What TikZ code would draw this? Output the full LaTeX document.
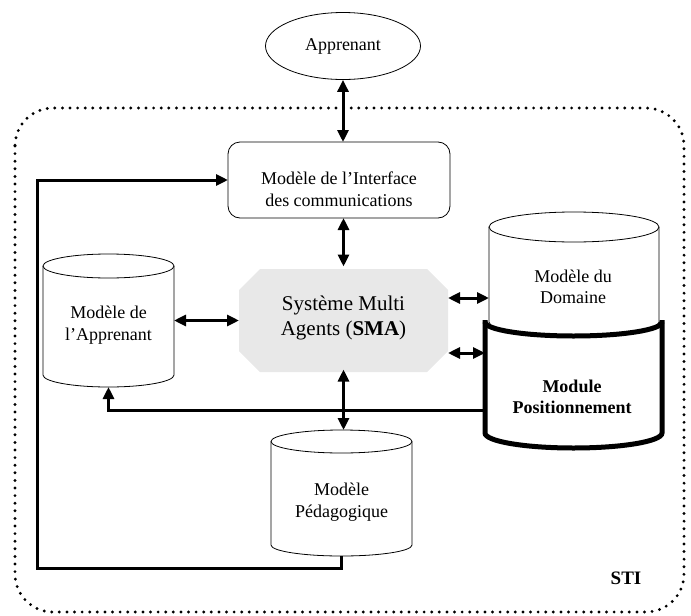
\documentclass[tikz,border=0pt]{standalone}
\usepackage{fontspec}
\setmainfont{Liberation Serif}
\usetikzlibrary{arrows.meta,shapes.geometric}
\definecolor{smagray}{HTML}{E8E8E8}
\begin{document}
\begin{tikzpicture}[x=1pt,y=-1pt,
  thinline/.style={line width=0.8pt},
  link/.style={line width=3pt,{Triangle[length=12pt,width=11pt]}-{Triangle[length=12pt,width=11pt]}},
  flow/.style={line width=3pt,-{Triangle[length=12pt,width=11pt]}},
  lbl/.style={font=\fontsize{18}{21.5}\selectfont,align=center,inner sep=0pt},
  anchorbox/.style={inner sep=0pt,outer sep=0pt},
  thickline/.style={line width=5pt}
]
\useasboundingbox (0,0) rectangle (691,616);

% STI border
\draw[line width=3.2pt,dash pattern=on 0pt off 7.6pt,line cap=round,rounded corners=38pt]
  (15,108) rectangle (684,612);

% Apprenant
\node[draw,ellipse,thinline,minimum width=155pt,minimum height=67pt,lbl] (app) at (343,46) {Apprenant};

% Interface
\node[draw,thinline,rounded corners=12pt,minimum width=222pt,minimum height=76pt,anchorbox] (iface) at (339,180) {};
\node[lbl] (ifacetxt) at (339,189) {Modèle de l’Interface\\des communications};

% SMA
\fill[smagray] (260,269) -- (427,269) -- (448,290) -- (448,351) -- (427,372) -- (260,372) -- (239,351) -- (239,290) -- cycle;
\node[anchorbox,minimum width=209pt,minimum height=103pt,align=center,font=\fontsize{21}{25.5}\selectfont] (sma) at (343.5,318) {Système Multi\\Agents (\textbf{SMA})};

% Modele de l'Apprenant (cylinder)
\draw[thinline,fill=white] (43,266) -- (43,375) arc[start angle=180,end angle=360,x radius=65.5pt,y radius=12pt] -- (174,266);
\draw[thinline] (108.5,266) ellipse[x radius=65.5pt,y radius=12pt];
\node[anchorbox,minimum width=131pt,minimum height=133pt] (mapp) at (108.5,320.5) {};
\node[lbl] (mapptxt) at (108.5,325) {Modèle de\\l’Apprenant};

% Modele du Domaine (cylinder)
\draw[thinline] (489,227) -- (489,322) arc[start angle=180,end angle=360,x radius=85pt,y radius=15pt] -- (659,227);
\draw[thinline] (574,227) ellipse[x radius=85pt,y radius=15pt];
\node[anchorbox,minimum width=170pt,minimum height=125pt] (dom) at (574,274.5) {};
\node[lbl] (domtxt) at (573,287) {Modèle du\\Domaine};

% Module Positionnement (thick cylinder)
\draw[thickline] (485,320) -- (485,433) arc[start angle=180,end angle=360,x radius=88.5pt,y radius=15pt] -- (662,320);
\draw[thickline] (485,322) arc[start angle=180,end angle=360,x radius=88.5pt,y radius=14pt];
\node[anchorbox,minimum width=177pt,minimum height=126pt] (mod) at (573.5,385) {};
\node[lbl,font=\bfseries\fontsize{18}{21.5}\selectfont] (modtxt) at (572,397) {Module\\Positionnement};

% Modele Pedagogique (cylinder)
\draw[thinline] (271,441.5) -- (271,545) arc[start angle=180,end angle=360,x radius=70.5pt,y radius=11pt] -- (412,441.5);
\draw[thinline] (341.5,441.5) ellipse[x radius=70.5pt,y radius=11.5pt];
\node[anchorbox,minimum width=141pt,minimum height=126pt] (ped) at (341.5,493) {};
\node[lbl] (pedtxt) at (341.5,502) {Modèle\\Pédagogique};

% STI label
\node[font=\bfseries\fontsize{19}{22}\selectfont,inner sep=0pt] (sti) at (626,578) {STI};

% connectors
\draw[link] (app.south) -- (app.south |- iface.north);
\draw[link] (sma.north |- iface.south) -- (sma.north);
\draw[link] (mapp.east) -- (sma.west |- mapp.east);
\draw[link] (sma.east |- 0,298) -- (dom.west |- 0,298);
\draw[link] (sma.east |- 0,353) -- (mod.west |- 0,353);
\draw[link] (sma.south) -- (sma.south |- ped.north);
\draw[flow] (mod.west |- 0,410) -| (mapp.south);
\coordinate (fbcorner) at (37,568);
\draw[flow] (ped.south) |- (fbcorner) |- (iface.west);
\end{tikzpicture}
\end{document}
